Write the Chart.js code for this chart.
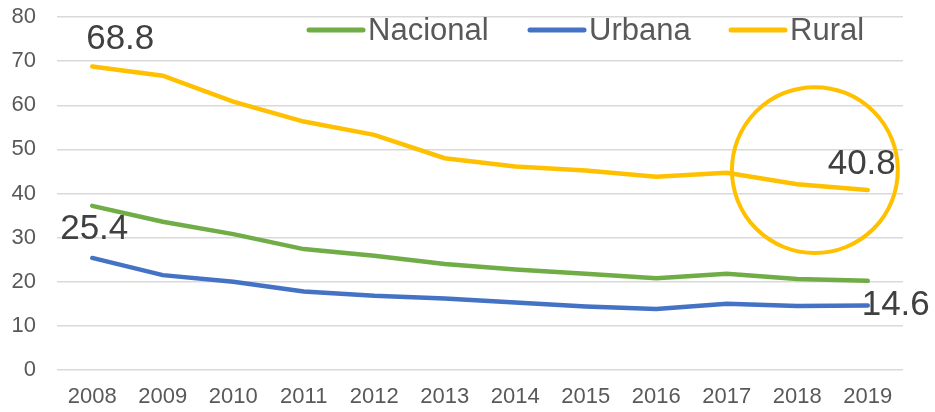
<!DOCTYPE html>
<html lang="es">
<head>
  <meta charset="UTF-8" />
  <title>Nacional / Urbana / Rural</title>
  <script src="https://cdn.jsdelivr.net/npm/chart.js@4.4.0/dist/chart.umd.min.js"></script>
  <style>
    html, body { margin: 0; padding: 0; background: #fff; }
    #wrap { width: 935px; height: 412px; }
  </style>
</head>
<body>
  <div id="wrap"><canvas id="chart" width="935" height="412"></canvas></div>

  <script>
    const years = ['2008', '2009', '2010', '2011', '2012', '2013', '2014', '2015', '2016', '2017', '2018', '2019'];
    const nacional = [37.2, 33.6, 30.8, 27.4, 25.9, 24.0, 22.8, 21.8, 20.8, 21.8, 20.6, 20.2];
    const urbana = [25.4, 21.5, 20.0, 17.8, 16.8, 16.2, 15.3, 14.4, 13.8, 15.0, 14.5, 14.6];
    const rural = [68.8, 66.7, 60.8, 56.3, 53.3, 48.0, 46.1, 45.2, 43.8, 44.7, 42.1, 40.8];
    const yTicks = [0, 10, 20, 30, 40, 50, 60, 70, 80];

    const GREEN = '#70AD47', BLUE = '#4472C4', YELLOW = '#FFC000';
    const FONT = 'Liberation Sans, Arial, sans-serif';

    // value labels: dataset index, point index, pixel offset from the point
    const valueLabels = [
      { ds: 2, i: 0, dx: 28, dy: -27 },
      { ds: 1, i: 0, dx: 2, dy: -29 },
      { ds: 2, i: 11, dx: -6, dy: -26 },
      { ds: 1, i: 11, dx: 28, dy: 0 }
    ];

    const extras = {
      id: 'extras',
      afterDatasetsDraw(chart) {
        const { ctx, scales } = chart;
        ctx.save();

        // highlight circle around the last rural points
        const cx = scales.x.getPixelForValue(10.25);
        const cy = scales.y.getPixelForValue(45.3);
        const r = scales.y.getPixelForValue(0) - scales.y.getPixelForValue(18.8);
        ctx.beginPath();
        ctx.arc(cx, cy, r, 0, Math.PI * 2);
        ctx.strokeStyle = YELLOW;
        ctx.lineWidth = 4;
        ctx.stroke();

        // value labels
        ctx.fillStyle = '#404040';
        ctx.font = '35px ' + FONT;
        ctx.textAlign = 'center';
        ctx.textBaseline = 'middle';
        valueLabels.forEach(l => {
          const pt = chart.getDatasetMeta(l.ds).data[l.i];
          const v = chart.data.datasets[l.ds].data[l.i];
          ctx.fillText(v.toFixed(1), pt.x + l.dx, pt.y + l.dy);
        });

        // legend drawn over the plot area
        const items = [
          { ds: 0, x: 309 },
          { ds: 1, x: 530 },
          { ds: 2, x: 731 }
        ];
        const ly = 30;
        ctx.font = '31px ' + FONT;
        ctx.textAlign = 'left';
        ctx.lineCap = 'round';
        items.forEach(it => {
          const d = chart.data.datasets[it.ds];
          ctx.beginPath();
          ctx.moveTo(it.x, ly);
          ctx.lineTo(it.x + 54, ly);
          ctx.strokeStyle = d.borderColor;
          ctx.lineWidth = 5;
          ctx.stroke();
          ctx.fillStyle = '#595959';
          ctx.fillText(d.label, it.x + 59, ly + 1);
        });
        ctx.restore();
      }
    };

    new Chart(document.getElementById('chart'), {
      type: 'line',
      data: {
        labels: years,
        datasets: [
          { label: 'Nacional', data: nacional, borderColor: GREEN, backgroundColor: GREEN },
          { label: 'Urbana', data: urbana, borderColor: BLUE, backgroundColor: BLUE },
          { label: 'Rural', data: rural, borderColor: YELLOW, backgroundColor: YELLOW }
        ]
      },
      options: {
        responsive: false,
        animation: false,
        layout: { padding: { top: 0, right: 32, left: 0, bottom: 0 } },
        elements: {
          line: { borderWidth: 4.5, tension: 0, borderCapStyle: 'round' },
          point: { radius: 0 }
        },
        plugins: {
          legend: { display: false },
          tooltip: { enabled: false }
        },
        scales: {
          x: {
            offset: true,
            grid: { display: false, drawTicks: false },
            border: { display: false },
            ticks: { color: '#595959', font: { family: FONT, size: 22 }, padding: 14, maxRotation: 0 },
            afterFit: s => { s.height = 42; }
          },
          y: {
            min: 0,
            max: 80,
            afterBuildTicks: s => { s.ticks = yTicks.map(v => ({ value: v })); },
            grid: { color: '#d9d9d9', lineWidth: 1.5, drawTicks: false },
            border: { display: false },
            ticks: { color: '#595959', font: { family: FONT, size: 22 }, padding: 21 },
            afterFit: s => { s.width = 57; s.paddingTop = 17; s.paddingBottom = 0; }
          }
        }
      },
      plugins: [extras]
    });
  </script>
</body>
</html>
